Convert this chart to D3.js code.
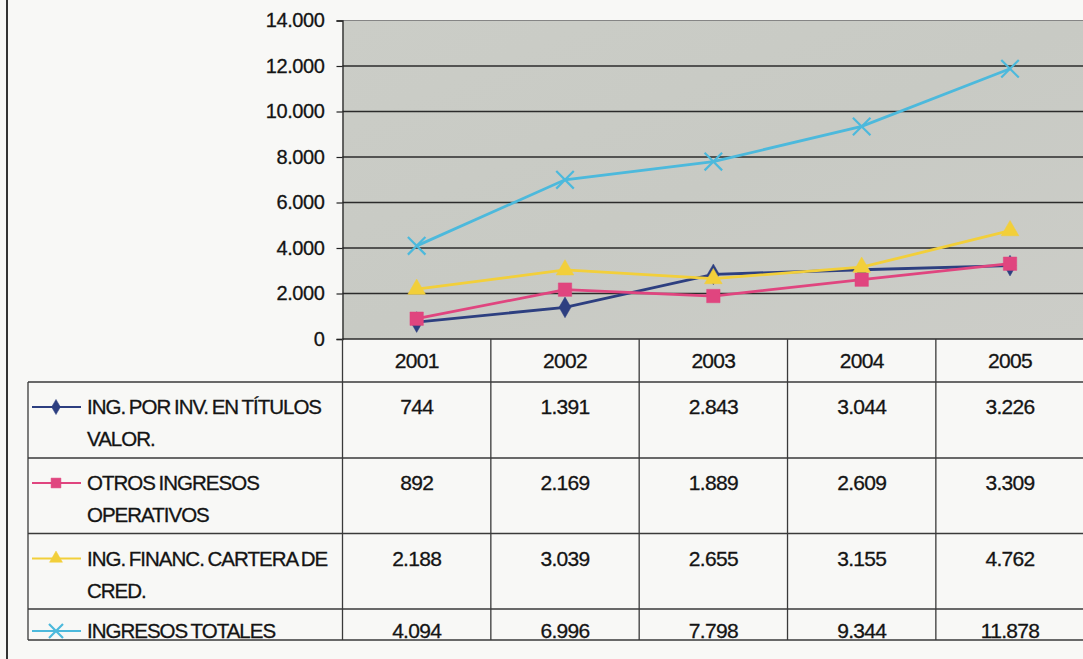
<!DOCTYPE html>
<html>
<head>
<meta charset="utf-8">
<script src="https://cdn.jsdelivr.net/npm/d3@7"></script>
<style>
  html, body { margin: 0; padding: 0; background: #f8f8f6; }
  svg { display: block; }
  text { font-family: "Liberation Sans", Arial, sans-serif; fill: #141414; stroke: #141414; stroke-width: 0.3px; }
</style>
</head>
<body>
<svg id="chart" width="1083" height="659"></svg>
<script>
// ---- data ----
const years = ["2001", "2002", "2003", "2004", "2005"];
const seriesLabels = [
  ["ING. POR INV. EN TÍTULOS", "VALOR."],
  ["OTROS INGRESOS", "OPERATIVOS"],
  ["ING. FINANC. CARTERA DE", "CRED."],
  ["INGRESOS TOTALES"]
];
const invTitulosValor = [744, 1391, 2843, 3044, 3226];
const otrosIngresosOperativos = [892, 2169, 1889, 2609, 3309];
const ingFinancCartera = [2188, 3039, 2655, 3155, 4762];
const ingresosTotales = [4094, 6996, 7798, 9344, 11878];
const yTicks = [0, 2000, 4000, 6000, 8000, 10000, 12000, 14000];

const seriesValues = [invTitulosValor, otrosIngresosOperativos, ingFinancCartera, ingresosTotales];
const seriesColors = ["#2d3f80", "#e0457f", "#f2cf3a", "#4cb9dc"];
const seriesMarkers = ["diamond", "square", "triangle", "x"];

// ---- layout ----
const svg = d3.select("#chart");
const plotLeft = 342.5, plotRight = 1084.2, plotTop = 20.5, plotBottom = 339;
const tableLeft = 28;
const rowEdges = [339, 382, 458, 533.5, 609, 640];

const locale = d3.formatLocale({decimal: ",", thousands: ".", grouping: [3], currency: ["", ""]});
const fmt = locale.format(",d");

const x = d3.scaleBand().domain(years).range([plotLeft, plotRight]).padding(0);
const y = d3.scaleLinear().domain([0, 14000]).range([plotBottom, plotTop]);

// page frame line
svg.append("line").attr("x1", 7).attr("x2", 7).attr("y1", 0).attr("y2", 659)
  .attr("stroke", "#333").attr("stroke-width", 2);

// plot background
const defs = svg.append("defs");
const grad = defs.append("linearGradient").attr("id", "bg").attr("x1", 0).attr("x2", 1).attr("y1", 0).attr("y2", 1);
grad.append("stop").attr("offset", "0%").attr("stop-color", "#cbcdc7");
grad.append("stop").attr("offset", "50%").attr("stop-color", "#c8cac4");
grad.append("stop").attr("offset", "100%").attr("stop-color", "#cccdc8");
svg.append("rect").attr("x", plotLeft).attr("y", plotTop)
  .attr("width", 1083 - plotLeft).attr("height", plotBottom - plotTop)
  .attr("fill", "url(#bg)");

// gridlines
svg.append("g").selectAll("line").data(yTicks).join("line")
  .attr("x1", plotLeft).attr("x2", 1083)
  .attr("y1", d => y(d)).attr("y2", d => y(d))
  .attr("stroke", d => d === 14000 ? "#858585" : "#2b2b2b")
  .attr("stroke-width", d => d === 14000 ? 1.2 : 1.5);

// y axis
const yAxis = d3.axisLeft(y).tickValues(yTicks).tickFormat(fmt).tickSize(6).tickPadding(12);
const yg = svg.append("g").attr("transform", `translate(${plotLeft},0)`).call(yAxis);
yg.select(".domain").attr("stroke", "#222").attr("stroke-width", 1.3);
yg.selectAll(".tick line").attr("stroke", "#222").attr("stroke-width", 1.2);
yg.selectAll(".tick text").attr("font-size", 20).attr("letter-spacing", "-0.4px")
  .attr("fill", "#141414").style("font-family", '"Liberation Sans", Arial, sans-serif');

// marker path generator
function markerPath(type, s) {
  if (type === "diamond") return d3.symbol(d3.symbolDiamond, s * s * 0.55)();
  if (type === "square") return d3.symbol(d3.symbolSquare, s * s * 0.8)();
  if (type === "triangle") return d3.symbol(d3.symbolTriangle, s * s * 0.6)();
  return d3.symbol(d3.symbolX, s * s * 0.9)();
}
function drawMarker(g, type, color, cx, cy, s) {
  const p = g.append("path").attr("d", markerPath(type, s))
    .attr("transform", `translate(${cx},${cy})`);
  if (type === "x") p.attr("fill", "none").attr("stroke", color).attr("stroke-width", 2.2);
  else p.attr("fill", color).attr("stroke", color).attr("stroke-width", 0.5);
}

// lines
const line = d3.line().x((d, i) => x(years[i]) + x.bandwidth() / 2).y(d => y(d));
seriesValues.forEach((vals, si) => {
  const g = svg.append("g");
  g.append("path").datum(vals).attr("d", line)
    .attr("fill", "none").attr("stroke", seriesColors[si]).attr("stroke-width", 2.8);
  vals.forEach((v, i) => drawMarker(g, seriesMarkers[si], seriesColors[si],
    x(years[i]) + x.bandwidth() / 2, y(v), 15));
});

// ---- data table ----
const tg = svg.append("g");
const lineColor = "#3a3a3a";
rowEdges.forEach((ry, i) => {
  if (i === 0) return;
  tg.append("line").attr("x1", tableLeft).attr("x2", 1083).attr("y1", ry).attr("y2", ry)
    .attr("stroke", lineColor).attr("stroke-width", 1.3);
});
tg.append("line").attr("x1", tableLeft).attr("x2", tableLeft).attr("y1", rowEdges[1]).attr("y2", rowEdges[5])
  .attr("stroke", lineColor).attr("stroke-width", 1.3);
years.forEach(yr => {
  tg.append("line").attr("x1", x(yr)).attr("x2", x(yr)).attr("y1", plotBottom).attr("y2", rowEdges[5])
    .attr("stroke", lineColor).attr("stroke-width", 1.3);
});

const txtStyle = sel => sel.attr("font-size", 21).attr("letter-spacing", "-0.7px");

// header years
tg.selectAll("text.yr").data(years).join("text").attr("class", "yr")
  .attr("x", d => x(d) + x.bandwidth() / 2).attr("y", 368)
  .attr("text-anchor", "middle").call(txtStyle).text(d => d);

// rows
seriesValues.forEach((vals, si) => {
  const top = rowEdges[si + 1];
  const base = si < 3 ? top + 32 : top + 29;
  vals.forEach((v, i) => {
    tg.append("text").attr("x", x(years[i]) + x.bandwidth() / 2).attr("y", base)
      .attr("text-anchor", "middle").call(txtStyle).text(fmt(v));
  });
  const ky = base - 7;
  tg.append("line").attr("x1", 32).attr("x2", 81).attr("y1", ky).attr("y2", ky)
    .attr("stroke", seriesColors[si]).attr("stroke-width", 2);
  drawMarker(tg, seriesMarkers[si], seriesColors[si], 56, ky, si === 3 ? 12 : 11);
  seriesLabels[si].forEach((lbl, li) => {
    tg.append("text").attr("x", 87).attr("y", base + li * 32)
      .attr("font-size", 20.5).attr("letter-spacing", "-1px").attr("word-spacing", "-1px")
      .text(lbl);
  });
});
</script>
</body>
</html>
